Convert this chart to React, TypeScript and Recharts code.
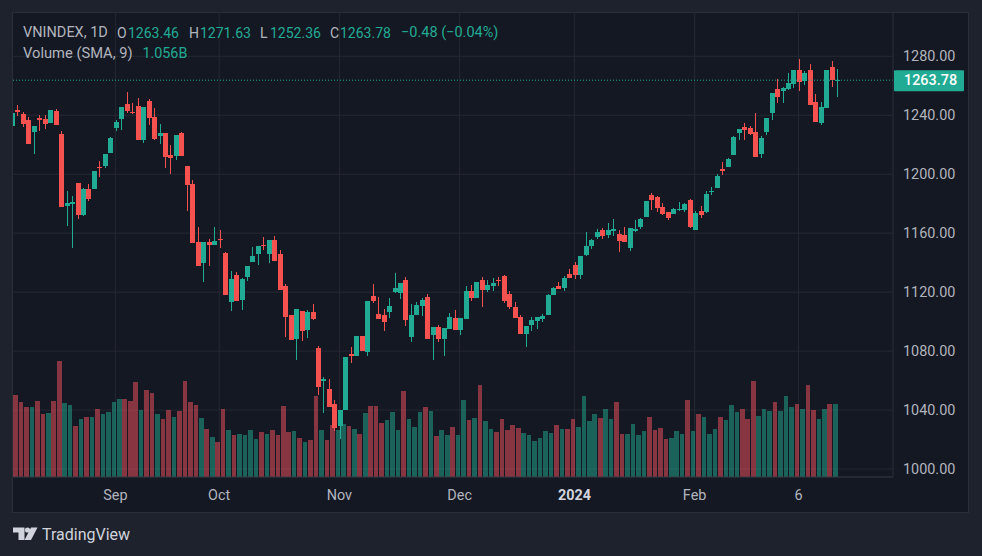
import React from "react";
import { ComposedChart, Bar, XAxis, YAxis, CartesianGrid, ReferenceLine } from "recharts";

const opens = [1232.7,
  1243.6,1240.9,1236.8,1228.6,1238.1,1237.5,1234.8,1242.9,1227.3,1178.4,
  1179.8,1194,1172.3,1190,1190,1204.9,1205.6,1214.4,1231.4,1237.5,
  1247.6,1242.2,1246.3,1223.2,1249.7,1238.8,1225.9,1228,1213,1212.4,
  1228,1205.6,1193.4,1154,1139.8,1154,1152,1156.1,1146.5,1113.3,
  1131.6,1114.7,1130.3,1140.4,1145.9,1152,1145.9,1155.4,1145.9,1124.2,
  1104.5,1088.2,1107.2,1094.3,1106.5,1082.1,1059.7,1054.3,1044.1,1029.2,
  1040,1078,1076.7,1090.2,1079.4,1117.4,1105.2,1104.5,1106.5,1120.1,
  1119.4,1128.2,1089.6,1104.5,1110.6,1116.7,1090.9,1096.3,1088.2,1095,
  1102.4,1094.3,1101.8,1120.8,1116,1128.2,1121.4,1124.2,1128.2,1131,
  1118.7,1109.9,1103.1,1091.6,1097.7,1100.4,1101.8,1104.5,1118.1,1124.2,
  1122.8,1132.3,1138.4,1131.6,1145.2,1151.3,1157.4,1162.2,1158.8,1161.5,
  1159.4,1158.8,1150,1161.5,1164.2,1171,1185.9,1184.5,1177.8,1174.4,
  1173,1175.7,1175.7,1182.5,1162.2,1175.1,1174.4,1188,1190.7,1203.5,
  1204.9,1213,1228,1232,1231.4,1228.6,1213.7,1228.6,1241.5,1257.8,
  1256.5,1257.8,1261.2,1270.7,1263.2,1270.7,1249,1234.8,1244.9,1272.8,
  1263.46];
const highs = [1241.8,
  1247,1242.2,1238.8,1232.7,1240.2,1240.2,1243.6,1244.3,1229.3,1188.6,
  1185.2,1194,1190.6,1193.4,1202.2,1209,1213.7,1225.3,1236.8,1245.6,
  1255.8,1248.3,1251.7,1245.6,1251,1244.9,1234.1,1228,1219.8,1226.6,
  1228.6,1205.6,1196.1,1164.2,1154,1156.1,1164.2,1162.2,1147.2,1134.3,
  1133.7,1129.6,1137.7,1150.6,1151.3,1157.4,1155.4,1158.1,1148.6,1125.5,
  1104.5,1108.6,1107.2,1107.9,1111.9,1083.4,1062.4,1061,1046.8,1040,
  1076,1082.8,1090.2,1090.2,1114,1125.5,1116.7,1108.6,1116,1133,
  1126.2,1130.3,1111.9,1113.3,1116,1118.7,1096.3,1097.7,1095.7,1105.9,
  1107.9,1102.4,1124.2,1124.8,1126.9,1130.3,1128.2,1129.6,1130.3,1131.6,
  1120.8,1113.3,1104.5,1097,1103.1,1103.1,1105.2,1118.7,1123.5,1126.9,
  1131,1135.7,1140.4,1144.5,1160.8,1156,1162.8,1163.5,1166.9,1169.6,
  1162.2,1164.2,1163.5,1169,1170.3,1181.8,1187.3,1185.2,1180.5,1174.4,
  1177.1,1181.2,1180.5,1183.2,1175.1,1178.4,1188.6,1191.3,1200.2,1208.3,
  1211,1226,1230.7,1234.8,1232.7,1241.5,1226,1238.1,1255.1,1264.6,
  1259.2,1268.7,1270.7,1278.2,1270,1274.8,1254.4,1249,1270.7,1276.8,
  1271.63];
const lows = [1232.7,
  1239.5,1232,1220.5,1213.7,1229.3,1230.7,1234.8,1233.4,1177.7,1164.9,
  1150,1169.6,1171.6,1181.8,1190,1198.1,1204.2,1214.4,1229.3,1230,
  1241.5,1240.9,1223.2,1221.2,1233.4,1223.2,1220.5,1204.2,1200.2,1209.6,
  1212.4,1175,1153.3,1137.7,1126.9,1137.7,1152,1149.9,1118.1,1107.2,
  1114,1107.9,1127.6,1140.4,1138.4,1148.6,1139.8,1141.1,1121.4,1089.6,
  1087.5,1073.9,1086.8,1088.9,1101.1,1050.2,1038,1042.1,1025.8,1020.3,
  1040,1071.9,1076.7,1080.1,1076.7,1112.6,1101.8,1093.6,1102.4,1119.4,
  1115.3,1097,1086.2,1104.5,1103.8,1088.2,1073.9,1086.2,1076.7,1095,
  1094.3,1090.9,1101.8,1114,1116,1109.9,1120.1,1120.8,1124.2,1112.6,
  1108.6,1102.4,1091.6,1082.8,1093.6,1095,1099.7,1104.5,1118.1,1122.1,
  1120.8,1129.6,1128.9,1128.9,1144.5,1149.3,1156,1156,1156.7,1158.1,
  1147.2,1154,1147.9,1160.8,1162.8,1171,1175.7,1174.4,1172.3,1169,
  1173,1175.1,1174.4,1163.5,1162.2,1170.3,1173.7,1185.9,1190.7,1199.5,
  1204.9,1213,1223.2,1223.2,1226.6,1211.7,1211,1226.6,1236.8,1248.3,
  1248.3,1257.2,1258.5,1256.5,1260.5,1247,1235.4,1233.4,1244.9,1259.2,
  1252.36];
const closes = [1241.8,
  1242.2,1234.1,1220.5,1232.7,1236.8,1234.1,1243.6,1233.4,1177.7,1180.5,
  1181.1,1172.3,1190,1183.2,1202.2,1204.2,1213.7,1224.6,1235.4,1245.6,
  1242.9,1241.5,1223.2,1245.6,1238.1,1223.9,1228,1211.7,1211,1226.6,
  1212.4,1192.7,1153.3,1137.7,1154,1152,1154.7,1155.4,1118.1,1128.9,
  1114,1128.9,1137.7,1144.5,1151.3,1151.3,1155.4,1141.1,1121.4,1103.1,
  1087.5,1108.6,1093.6,1106.5,1101.8,1055.6,1061,1042.1,1027.8,1040,
  1076,1076.7,1090.2,1080.1,1114,1114,1101.8,1099.7,1110.6,1122.8,
  1126.2,1101.1,1104.5,1111.3,1114.7,1088.2,1096.3,1088.2,1095.7,1103.1,
  1094.3,1102.4,1120.8,1116,1126.9,1121.4,1124.8,1126.2,1127.6,1114,
  1109.9,1102.4,1091.6,1097,1101.1,1103.1,1103.8,1118.1,1122.8,1122.1,
  1129.6,1129.6,1131.6,1144.5,1151.3,1155.4,1160.8,1158.1,1162.2,1162.8,
  1154.7,1154,1163.5,1162.8,1169.6,1181.8,1182.5,1177.1,1173,1170.3,
  1176.4,1176.4,1179.8,1164.2,1173.7,1172.3,1186.6,1188.6,1198.8,1202.2,
  1210.3,1225.2,1230.7,1230,1227.3,1211.7,1224.6,1238.1,1255.1,1252.4,
  1258.5,1261.9,1270.7,1262.6,1268.7,1247,1235.4,1245.6,1270.7,1264.26,
  1263.78];
const volumes = [null,
  1.213,1.110,1.036,1.036,1.124,.933,.948,1.124,1.714,1.095,
  1.065,.756,.859,.889,.889,1.007,.933,.962,1.110,1.154,
  1.154,1.124,1.404,.992,1.286,1.242,.933,.859,.992,.889,
  .977,1.419,1.110,1.065,.874,.712,.594,.520,1.007,.697,
  .624,.638,.624,.697,.565,.668,.638,.697,.624,1.051,
  .668,.682,.579,.520,.550,1.198,.697,.550,.771,.697,
  .786,.756,.712,.638,.948,1.051,1.051,.800,.845,.962,
  .697,1.272,.859,.741,.962,1.036,.977,.609,.697,.624,
  .741,.624,1.139,.845,.874,1.360,.830,.712,.668,.859,
  .697,.771,.727,.653,.624,.535,.579,.682,.653,.771,
  .712,.712,.859,.741,1.198,.830,.933,.874,1.007,.859,
  1.110,.638,.638,.786,.624,.682,.889,.697,.727,.565,
  .579,.682,.638,1.139,.682,.933,.889,.638,.712,.889,
  .845,1.065,.962,1.007,.859,1.419,.903,1.007,.977,1.110,
  .977,1.198,1.036,1.080,1.007,1.360,.992,.859,1.007,1.080,
  1.080];

const timeTicks = [18, 37, 59, 81, 102, 124, 143];
const timeLabels = ["Sep", "Oct", "Nov", "Dec", "2024", "Feb", "6"];
const priceTicks = [1000, 1040, 1080, 1120, 1160, 1200, 1240, 1280];
const lastPrice = 1263.78;

const rows = opens.map((o, k) => ({
  i: k - 1,
  o,
  h: highs[k],
  l: lows[k],
  c: closes[k],
  v: volumes[k],
}));

const UP = "#22ab94";
const DOWN = "#f5524f";
const VOL_DOWN = "#f7525f";
const FONT = "Roboto, sans-serif";

function Candle(props: any) {
  const { x, y, width, height, payload } = props;
  if (height == null || !payload) return null;
  const cx = x + width / 2;
  const unit = height / (payload.h - payload.l || 1);
  const top = y + (payload.h - Math.max(payload.o, payload.c)) * unit;
  const bodyH = Math.max(1, Math.abs(payload.o - payload.c) * unit);
  const color = payload.c >= payload.o ? UP : DOWN;
  return (
    <g shapeRendering="crispEdges">
      <rect x={Math.round(cx - 0.5)} y={y} width={1} height={Math.max(1, height)} fill={color} />
      <rect x={Math.round(cx - 2.5)} y={top} width={5} height={bodyH} fill={color} />
    </g>
  );
}

function VolumeBar(props: any) {
  const { x, y, width, height, payload } = props;
  if (!height || !payload) return null;
  const cx = x + width / 2;
  const left = Math.round(cx - 2.3);
  const right = Math.round(cx + 2.3);
  return (
    <rect
      x={left}
      y={y}
      width={right - left}
      height={height}
      shapeRendering="crispEdges"
      fill={payload.c >= payload.o ? UP : VOL_DOWN}
      fillOpacity={0.5}
    />
  );
}

function PriceTick(props: any) {
  const { x, y, payload } = props;
  return (
    <text x={x + 2} y={y + 5} fill="#b2b5be" fontSize={14.4} fontFamily={FONT}>
      {payload.value.toFixed(2)}
    </text>
  );
}

function TimeTick(props: any) {
  const { x, y, index } = props;
  const label = timeLabels[index];
  const bold = label === "2024";
  return (
    <text
      x={x}
      y={y + 15}
      textAnchor="middle"
      fill={bold ? "#d1d4dc" : "#b2b5be"}
      fontWeight={bold ? 700 : 400}
      fontSize={14.4}
      fontFamily={FONT}
    >
      {label}
    </text>
  );
}

function PriceTag(props: any) {
  const { viewBox } = props;
  const right = viewBox.x + viewBox.width;
  return (
    <g>
      <rect x={right + 1} y={viewBox.y - 10} width={70} height={21} rx={1} fill={UP} />
      <text x={right + 11} y={viewBox.y + 5} fill="#ffffff" fontSize={14.4} fontWeight={500} fontFamily={FONT}>
        {lastPrice.toFixed(2)}
      </text>
    </g>
  );
}

const legendParts: [number, number, string, string, number][] = [
  [23, 33, "VNINDEX, 1D", "#b2b5be", 14.5],
  [117, 33, "O", "#b2b5be", 14],
  [128, 33, "1263.46", UP, 14],
  [189, 33, "H", "#b2b5be", 14],
  [200, 33, "1271.63", UP, 14],
  [260, 33, "L", "#b2b5be", 14],
  [270, 33, "1252.36", UP, 14],
  [330, 33, "C", "#b2b5be", 14],
  [340, 33, "1263.78", UP, 14],
  [401, 33, "\u22120.48 (\u22120.04%)", UP, 14.5],
  [23, 53, "Volume (SMA, 9)", "#b2b5be", 14.7],
  [142.5, 53, "1.056B", UP, 14.3],
];

export default function App() {
  return (
    <div style={{ position: "fixed", left: 0, top: 0, width: 982, height: 556, background: "#1e222d", overflow: "hidden" }}>
      <div style={{ position: "absolute", left: 12, top: 12, width: 957, height: 501, background: "#141823", boxSizing: "border-box", border: "1px solid #2a2e39" }} />
      <div style={{ position: "absolute", left: 0, top: 0 }}>
        <ComposedChart
          width={982}
          height={556}
          data={rows}
          margin={{ left: 13, top: 12, right: 14, bottom: 44 }}
        >
          <CartesianGrid stroke="#242833" xAxisId="t" yAxisId="price" syncWithTicks />
          <XAxis
            xAxisId="t"
            dataKey="i"
            type="number"
            domain={[-0.732, 160.3]}
            allowDataOverflow
            ticks={timeTicks}
            interval={0}
            tick={<TimeTick />}
            tickLine={false}
            axisLine={{ stroke: "#363a45" }}
            height={35}
          />
          <YAxis
            yAxisId="price"
            orientation="right"
            domain={[994.57, 1310.06]}
            allowDataOverflow
            ticks={priceTicks}
            interval={0}
            tick={<PriceTick />}
            tickLine={false}
            axisLine={{ stroke: "#2a2e39" }}
            width={75}
          />
          <YAxis yAxisId="vol" hide domain={[0, 6.851]} allowDataOverflow />
          <Bar xAxisId="t" yAxisId="vol" dataKey="v" barSize={5} shape={<VolumeBar />} isAnimationActive={false} />
          <ReferenceLine
            xAxisId="t"
            yAxisId="price"
            y={lastPrice}
            stroke={UP}
            strokeDasharray="1 2"
            label={<PriceTag />}
          />
          <Bar
            xAxisId="t"
            yAxisId="price"
            dataKey={(d: any) => [d.l, d.h]}
            barSize={5}
            shape={<Candle />}
            isAnimationActive={false}
          />
        </ComposedChart>
      </div>
      {legendParts.map(([x, y, t, c, fs], k) => (
        <span
          key={k}
          style={{ position: "absolute", left: x, top: y - 9, fontFamily: FONT, fontSize: fs, lineHeight: "18px", color: c, whiteSpace: "nowrap" }}
        >
          {t}
        </span>
      ))}
      <svg style={{ position: "absolute", left: 0, top: 0 }} width={982} height={556}>
        <path d="M13 527.5H24.5V540H18.5V532.5H13Z" fill="#d1d4dc" />
        <circle cx={27.5} cy={530} r={2.6} fill="#d1d4dc" />
        <path d="M31 527.5H37.5L31 540H24.5Z" fill="#d1d4dc" />
      </svg>
      <span style={{ position: "absolute", left: 42, top: 524, fontFamily: FONT, fontSize: 16, lineHeight: "22px", color: "#d1d4dc", whiteSpace: "nowrap" }}>
        TradingView
      </span>
    </div>
  );
}
